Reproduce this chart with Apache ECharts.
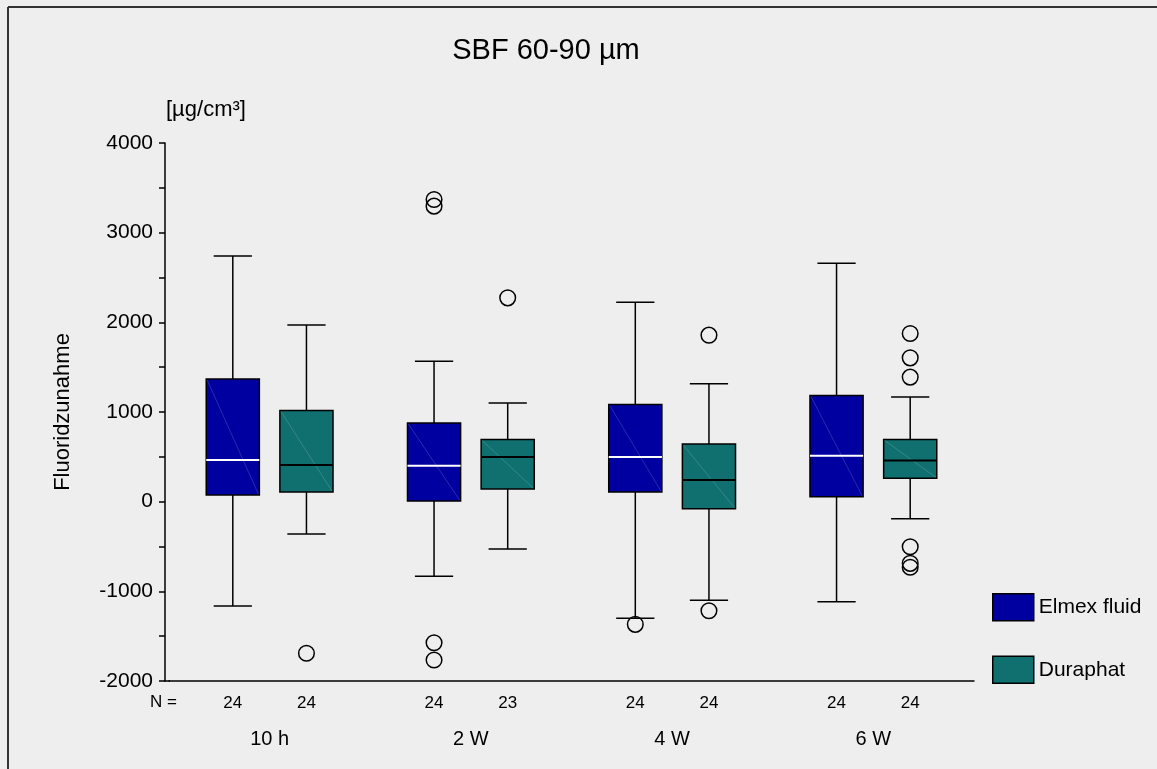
<!DOCTYPE html>
<html>
<head>
<meta charset="utf-8">
<script src="https://cdn.jsdelivr.net/npm/echarts@6/dist/echarts.min.js"></script>
<style>
html,body{margin:0;padding:0;background:#eeeeee;}
#chart{width:1157px;height:769px;}
</style>
</head>
<body>
<div id="chart"></div>
<script>
const categories = ['10 h', '2 W', '4 W', '6 W'];
const seriesNames = ['Elmex fluid', 'Duraphat'];
// [lower whisker, Q1, median, Q3, upper whisker]
const elmexBox = [
  [-1164, 74, 464, 1367, 2741],
  [-833, 7, 400, 876, 1567],
  [-1301, 107, 497, 1085, 2225],
  [-1116, 55, 512, 1185, 2660]
];
const duraphatBox = [
  [-361, 107, 408, 1018, 1969],
  [-528, 140, 497, 694, 1099],
  [-1100, -79, 241, 642, 1315],
  [-190, 260, 460, 694, 1166]
];
// [category index, value]
const elmexOutliers = [[1, 3370], [1, 3296], [1, -1573], [1, -1766], [2, -1368]];
const duraphatOutliers = [[0, -1691], [1, 2273], [2, 1857], [2, -1216], [3, 1876], [3, 1604], [3, 1389], [3, -503], [3, -688], [3, -732]];
const elmexN = [24, 24, 24, 24];
const duraphatN = [24, 23, 24, 24];
const yMin = -2000, yMax = 4000, yStep = 1000;

const FONT = 'Arial, "Liberation Sans", sans-serif';
const colors = { elmex: '#0000a0', duraphat: '#107070' };

function boxRenderer(offsetFrac, fill, medColor) {
  return function (params, api) {
    const cat = api.value(0);
    const band = api.size([1, 0])[0];
    const cx = api.coord([cat, 0])[0] + offsetFrac * band;
    const hw = band * 0.132;
    const capHw = band * 0.095;
    const yl = api.coord([cat, api.value(1)])[1];
    const q1 = api.coord([cat, api.value(2)])[1];
    const md = api.coord([cat, api.value(3)])[1];
    const q3 = api.coord([cat, api.value(4)])[1];
    const yh = api.coord([cat, api.value(5)])[1];
    const yb = api.coord([cat, yMin])[1];
    const ls = { stroke: '#000', lineWidth: 1.5 };
    return {
      type: 'group',
      children: [
        { type: 'line', shape: { x1: cx, y1: yh, x2: cx, y2: q3 }, style: ls },
        { type: 'line', shape: { x1: cx, y1: q1, x2: cx, y2: yl }, style: ls },
        { type: 'line', shape: { x1: cx - capHw, y1: yh, x2: cx + capHw, y2: yh }, style: ls },
        { type: 'line', shape: { x1: cx - capHw, y1: yl, x2: cx + capHw, y2: yl }, style: ls },
        { type: 'rect', shape: { x: cx - hw, y: q3, width: 2 * hw, height: q1 - q3 }, style: { fill: fill, stroke: '#000', lineWidth: 1.5 } },
        { type: 'line', shape: { x1: cx - hw + 1, y1: q3 + 1, x2: cx + hw - 1, y2: q1 - 1 }, style: { stroke: 'rgba(255,255,255,0.16)', lineWidth: 1 } },
        { type: 'line', shape: { x1: cx - hw, y1: md, x2: cx + hw, y2: md }, style: { stroke: medColor, lineWidth: 2 } },
        { type: 'text', x: cx, y: yb + 22, style: { text: String(api.value(6)), fill: '#000', font: '17px ' + FONT, align: 'center', verticalAlign: 'middle' } }
      ]
    };
  };
}

function outlierRenderer(offsetFrac) {
  return function (params, api) {
    const cat = api.value(0);
    const band = api.size([1, 0])[0];
    const p = api.coord([cat, api.value(1)]);
    return {
      type: 'circle',
      shape: { cx: p[0] + offsetFrac * band, cy: p[1], r: 7.8 },
      style: { fill: 'none', stroke: '#000', lineWidth: 1.5 }
    };
  };
}

const off = 0.183;

const chart = echarts.init(document.getElementById('chart'), null, { renderer: 'canvas' });
chart.setOption({
  backgroundColor: '#eeeeee',
  animation: false,
  title: {
    text: 'SBF 60-90 µm',
    left: 541,
    top: 31,
    textAlign: 'center',
    textStyle: { fontFamily: FONT, fontSize: 29, fontWeight: 'normal', color: '#000' }
  },
  legend: {
    orient: 'vertical',
    left: 992,
    top: 593,
    padding: 0,
    itemWidth: 41,
    itemHeight: 27,
    itemGap: 34,
    selectedMode: false,
    textStyle: { fontFamily: FONT, fontSize: 21, color: '#000' },
    data: [
      { name: seriesNames[0], icon: 'rect', itemStyle: { color: colors.elmex, borderColor: '#000', borderWidth: 1.5 } },
      { name: seriesNames[1], icon: 'rect', itemStyle: { color: colors.duraphat, borderColor: '#000', borderWidth: 1.5 } }
    ]
  },
  grid: { left: 169, right: 183, top: 143, bottom: 88 },
  xAxis: {
    type: 'category',
    data: categories,
    boundaryGap: true,
    axisLine: { onZero: false, lineStyle: { color: '#000', width: 1.5 } },
    axisTick: { alignWithLabel: true, length: 5, inside: false, lineStyle: { color: '#000', width: 1.5 } },
    axisLabel: { margin: 48, color: '#000', fontFamily: FONT, fontSize: 20 },
    splitLine: { show: false }
  },
  yAxis: {
    type: 'value',
    min: yMin,
    max: yMax,
    interval: yStep,
    offset: 4,
    name: 'Fluoridzunahme',
    nameLocation: 'middle',
    nameGap: 91,
    nameRotate: 90,
    nameTextStyle: { fontFamily: FONT, fontSize: 22, color: '#000' },
    axisLine: { show: true, lineStyle: { color: '#000', width: 1.5 } },
    axisTick: { show: true, length: 6, lineStyle: { color: '#000', width: 1.5 } },
    minorTick: { show: true, splitNumber: 2, length: 6, lineStyle: { color: '#000', width: 1.5 } },
    axisLabel: { margin: 12, color: '#000', fontFamily: FONT, fontSize: 21, formatter: function (v) { return String(v); } },
    splitLine: { show: false }
  },
  graphic: [
    { type: 'line', shape: { x1: 8, y1: 7, x2: 1157, y2: 7 }, style: { stroke: '#333', lineWidth: 2 } },
    { type: 'line', shape: { x1: 8, y1: 7, x2: 8, y2: 769 }, style: { stroke: '#333', lineWidth: 2 } },
    { type: 'line', shape: { x1: 164.25, y1: 681, x2: 170, y2: 681 }, style: { stroke: '#000', lineWidth: 1.5 } },
    { type: 'text', left: 166, top: 99, style: { text: '[µg/cm³]', fill: '#000', font: '22px ' + FONT } },
    { type: 'text', left: 150, top: 694, style: { text: 'N =', fill: '#000', font: '17px ' + FONT } }
  ],
  series: [
    {
      name: seriesNames[0], type: 'custom',
      itemStyle: { color: colors.elmex },
      renderItem: boxRenderer(-off, colors.elmex, '#ffffff'),
      encode: { x: 0, y: [1, 2, 3, 4, 5] },
      data: elmexBox.map((b, i) => [i].concat(b, [elmexN[i]])),
      z: 3
    },
    {
      name: seriesNames[1], type: 'custom',
      itemStyle: { color: colors.duraphat },
      renderItem: boxRenderer(off, colors.duraphat, '#000000'),
      encode: { x: 0, y: [1, 2, 3, 4, 5] },
      data: duraphatBox.map((b, i) => [i].concat(b, [duraphatN[i]])),
      z: 3
    },
    {
      name: seriesNames[0] + ' outliers', type: 'custom',
      renderItem: outlierRenderer(-off),
      encode: { x: 0, y: 1 },
      data: elmexOutliers,
      z: 4
    },
    {
      name: seriesNames[1] + ' outliers', type: 'custom',
      renderItem: outlierRenderer(off),
      encode: { x: 0, y: 1 },
      data: duraphatOutliers,
      z: 4
    }
  ]
});
</script>
</body>
</html>
